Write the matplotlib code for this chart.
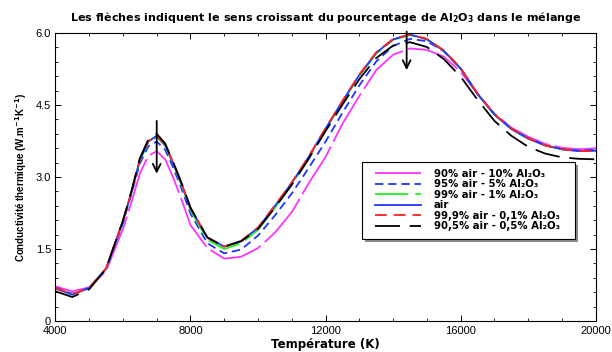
import matplotlib
matplotlib.use("Agg")
import matplotlib.pyplot as plt
from matplotlib.patches import Rectangle
from matplotlib.ticker import MultipleLocator, FixedLocator, FixedFormatter

plt.rcParams['font.family'] = ['Liberation Sans', 'DejaVu Sans']
plt.rcParams['mathtext.default'] = 'bf'
plt.rcParams['mathtext.fontset'] = 'dejavusans'
plt.rcParams['lines.scale_dashes'] = False

# Data (temperature in K, conductivity in W/m/K)
temperature = [4000, 4500, 5000, 5500, 6000, 6250, 6500, 6750, 7000, 7250, 7500, 7750,
               8000, 8500, 9000, 9500, 10000, 10500, 11000, 11500, 12000, 12500, 13000,
               13500, 14000, 14500, 15000, 15500, 16000, 16500, 17000, 17500, 18000,
               18500, 19000, 19500, 20000]

k_10pct = [0.72, 0.62, 0.70, 1.04, 1.92, 2.47, 3.07, 3.44, 3.54, 3.37, 2.97, 2.50,
           2.00, 1.52, 1.30, 1.34, 1.52, 1.84, 2.27, 2.87, 3.42, 4.11, 4.69,
           5.23, 5.55, 5.68, 5.65, 5.51, 5.19, 4.73, 4.32, 4.03, 3.84,
           3.69, 3.61, 3.58, 3.60]
k_5pct = [0.70, 0.57, 0.69, 1.08, 2.04, 2.64, 3.28, 3.64, 3.74, 3.57, 3.18, 2.73,
          2.24, 1.62, 1.41, 1.49, 1.78, 2.20, 2.66, 3.19, 3.74, 4.34, 4.91,
          5.41, 5.73, 5.88, 5.83, 5.62, 5.26, 4.74, 4.31, 4.01, 3.81,
          3.66, 3.58, 3.55, 3.57]
k_1pct = [0.68, 0.56, 0.69, 1.09, 2.07, 2.67, 3.34, 3.72, 3.84, 3.65, 3.25, 2.80,
          2.31, 1.69, 1.50, 1.62, 1.90, 2.36, 2.85, 3.39, 3.99, 4.56, 5.11,
          5.57, 5.86, 5.96, 5.87, 5.63, 5.26, 4.73, 4.30, 4.00, 3.80,
          3.66, 3.58, 3.54, 3.55]
k_air = [0.68, 0.55, 0.69, 1.09, 2.08, 2.68, 3.36, 3.74, 3.86, 3.67, 3.27, 2.83,
         2.35, 1.74, 1.55, 1.67, 1.94, 2.40, 2.88, 3.42, 4.01, 4.58, 5.13,
         5.59, 5.87, 5.97, 5.87, 5.63, 5.26, 4.73, 4.30, 4.00, 3.80,
         3.66, 3.58, 3.54, 3.55]
k_01pct = [0.69, 0.56, 0.69, 1.10, 2.09, 2.69, 3.37, 3.75, 3.86, 3.68, 3.28, 2.84,
           2.36, 1.74, 1.55, 1.67, 1.95, 2.41, 2.89, 3.43, 4.02, 4.59, 5.14,
           5.60, 5.88, 5.97, 5.88, 5.64, 5.27, 4.74, 4.31, 4.01, 3.81,
           3.66, 3.58, 3.54, 3.55]
k_05pct = [0.62, 0.50, 0.66, 1.09, 2.09, 2.70, 3.39, 3.78, 3.90, 3.70, 3.29, 2.85,
           2.36, 1.74, 1.55, 1.66, 1.92, 2.36, 2.84, 3.38, 3.96, 4.51, 5.04,
           5.48, 5.74, 5.81, 5.71, 5.46, 5.09, 4.61, 4.17, 3.86, 3.63,
           3.49, 3.41, 3.38, 3.37]

labels = ['90% air - 10% Al₂O₃', '95% air - 5% Al₂O₃',
          '99% air - 1% Al₂O₃', 'air',
          '99,9% air - 0,1% Al₂O₃', '90,5% air - 0,5% Al₂O₃']

# arrows: (x, y start, y end)
arrows = [(7000, 4.17, 3.07), (14400, 6.03, 5.23)]

fig = plt.figure(figsize=(6.12, 3.52), dpi=100)
ax = fig.add_axes([0.0905, 0.088, 0.883, 0.818])

ax.plot(temperature, k_10pct, color='#ff33ff', lw=1.3, dashes=(40, 4), label=labels[0])
ax.plot(temperature, k_5pct, color='#2233ff', lw=1.3, dashes=(6, 3.5), label=labels[1])
ax.plot(temperature, k_1pct, color='#22ee22', lw=1.3, dashes=(24, 5), label=labels[2])
ax.plot(temperature, k_air, color='#2233ff', lw=1.3, label=labels[3])
ax.plot(temperature, k_01pct, color='#ff2222', lw=1.3, dashes=(8.5, 5), label=labels[4])
ax.plot(temperature, k_05pct, color='black', lw=1.3, dashes=(18, 7), label=labels[5])

for x, y0, y1 in arrows:
    ax.annotate('', xy=(x, y1), xytext=(x, y0),
                arrowprops=dict(arrowstyle='->', color='black', lw=1.3,
                                mutation_scale=14, shrinkA=0, shrinkB=0))

ax.set_xlim(4000, 20000)
ax.set_ylim(0, 6)
ax.xaxis.set_major_locator(MultipleLocator(4000))
ax.xaxis.set_minor_locator(MultipleLocator(1000))
ax.yaxis.set_major_locator(FixedLocator([0, 1.5, 3.0, 4.5, 6.0]))
ax.yaxis.set_major_formatter(FixedFormatter(['0', '1.5', '3.0', '4.5', '6.0']))
ax.yaxis.set_minor_locator(MultipleLocator(0.3))
ax.tick_params(which='both', direction='in', top=True, right=True, labelsize=8)
ax.tick_params(axis='x', pad=3.5)
ax.tick_params(axis='y', pad=3)
ax.tick_params(which='major', length=4, width=0.7)
ax.tick_params(which='minor', length=2, width=0.6)
for s in ax.spines.values():
    s.set_linewidth(0.8)

ax.set_xlabel('Température (K)', fontsize=8.5, fontweight='bold', family='DejaVu Sans',
              labelpad=1.5)
ax.set_ylabel('Conductivité thermique (W.m$^{-1}$K$^{-1}$)', fontsize=7,
              fontweight='bold', labelpad=5)
ax.set_title('Les flèches indiquent le sens croissant du pourcentage de Al$_2$O$_3$ dans le mélange',
             fontsize=8, fontweight='bold', family='DejaVu Sans', pad=9)

# legend box with grey drop shadow, drawn in axes fraction
box_x, box_y, box_w, box_h = 0.567, 0.286, 0.394, 0.268
ax.add_patch(Rectangle((box_x + 0.006, box_y - 0.012), box_w, box_h, transform=ax.transAxes,
                       facecolor='0.55', edgecolor='none', zorder=4))
ax.add_patch(Rectangle((box_x, box_y), box_w, box_h, transform=ax.transAxes,
                       facecolor='white', edgecolor='black', lw=0.8, zorder=5))
leg = ax.legend(loc='center left', bbox_to_anchor=(box_x + 0.024, box_y + box_h / 2),
                prop={'weight': 'bold', 'size': 7.3, 'family': 'DejaVu Sans'},
                handlelength=4.6, handletextpad=1.2, labelspacing=0.05,
                borderpad=0, frameon=False, borderaxespad=0)
leg.set_zorder(6)

fig.savefig('out.png', dpi=100)
